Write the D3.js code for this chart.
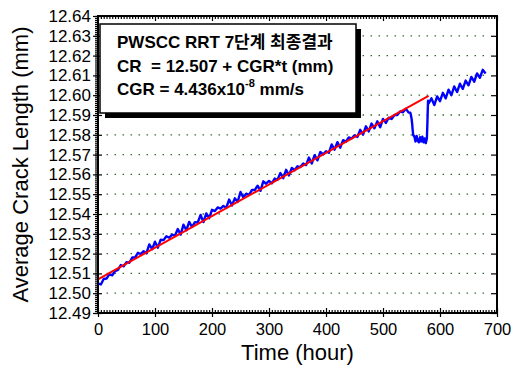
<!DOCTYPE html>
<html>
<head>
<meta charset="utf-8">
<script src="https://cdn.jsdelivr.net/npm/d3@7"></script>
<style>
  body { margin: 0; background: #fff; }
  svg text { font-family: "Liberation Sans", Arial, "Noto Sans CJK KR", sans-serif; }
</style>
</head>
<body>
<div id="chart"></div>
<script>
// measured crack length (blue trace)
const timeHours = [
  0, 5, 10, 15, 20, 25, 30, 35, 40, 45, 50, 55, 60, 65, 70, 75, 80, 85, 90, 95,
  100, 105, 110, 115, 120, 125, 130, 135, 140, 145, 150, 155, 160, 165, 170, 175, 180, 185, 190, 195,
  200, 205, 210, 215, 220, 225, 230, 235, 240, 245, 250, 255, 260, 265, 270, 275, 280, 285, 290, 295,
  300, 305, 310, 315, 320, 325, 330, 335, 340, 345, 350, 355, 360, 365, 370, 375, 380, 385, 390, 395,
  400, 405, 410, 415, 420, 425, 430, 435, 440, 445, 450, 455, 460, 465, 470, 475, 480, 485, 490, 495,
  500, 505, 510, 515, 520, 525, 530, 535, 540, 545,
  548, 550, 551, 552, 553, 555, 557, 559, 561, 563, 565, 567, 569, 571, 573, 575, 577, 578, 579,
  580, 585, 590, 595, 600, 605, 610, 615, 620, 625, 630, 635, 640, 645, 650, 655, 660, 665, 670, 675, 680
];
const crackLength = [
  12.5050, 12.5044, 12.5072, 12.5074, 12.5096, 12.5090, 12.5112, 12.5118, 12.5142, 12.5136,
  12.5156, 12.5154, 12.5180, 12.5180, 12.5204, 12.5198, 12.5212, 12.5202, 12.5246, 12.5222,
  12.5260, 12.5230, 12.5270, 12.5268, 12.5288, 12.5280, 12.5296, 12.5290, 12.5324, 12.5296,
  12.5346, 12.5318, 12.5360, 12.5334, 12.5359, 12.5357, 12.5395, 12.5359, 12.5403, 12.5379,
  12.5421, 12.5415, 12.5433, 12.5427, 12.5441, 12.5431, 12.5473, 12.5443, 12.5479, 12.5461,
  12.5511, 12.5483, 12.5503, 12.5497, 12.5521, 12.5521, 12.5543, 12.5517, 12.5565, 12.5553,
  12.5567, 12.5555, 12.5579, 12.5573, 12.5607, 12.5581, 12.5623, 12.5595, 12.5633, 12.5621,
  12.5641, 12.5637, 12.5655, 12.5647, 12.5685, 12.5655, 12.5697, 12.5671, 12.5713, 12.5701,
  12.5717, 12.5709, 12.5751, 12.5725, 12.5763, 12.5735, 12.5773, 12.5765, 12.5787, 12.5781,
  12.5797, 12.5789, 12.5825, 12.5801, 12.5843, 12.5817, 12.5857, 12.5833, 12.5868, 12.5838,
  12.5880, 12.5860, 12.5886, 12.5880, 12.5900, 12.5900, 12.5918, 12.5914, 12.5932, 12.5912,
  12.5912, 12.5884, 12.5860, 12.5826, 12.5798, 12.5792, 12.5766, 12.5794, 12.5770, 12.5762,
  12.5788, 12.5766, 12.5790, 12.5762, 12.5782, 12.5758, 12.5782, 12.5870, 12.5972,
  12.5958, 12.5984, 12.5950, 12.5994, 12.5970, 12.6012, 12.5984, 12.6028, 12.6000, 12.6044,
  12.6016, 12.6058, 12.6032, 12.6074, 12.6050, 12.6092, 12.6068, 12.6110, 12.6088, 12.6128, 12.6110
];

// linear fit (red)
const fitHours = [0, 580];
const fitLength = [12.507, 12.5996];

const xTicks = [0, 100, 200, 300, 400, 500, 600, 700];
const yTicks = [12.49, 12.50, 12.51, 12.52, 12.53, 12.54, 12.55, 12.56,
                12.57, 12.58, 12.59, 12.60, 12.61, 12.62, 12.63, 12.64];
const gridLevels = [12.50, 12.51, 12.52, 12.53, 12.54, 12.55, 12.56,
                    12.57, 12.58, 12.59, 12.60, 12.61, 12.62, 12.63];

document.addEventListener('DOMContentLoaded', () => {

  const width = 512;
  const height = 376;
  const margin = { top: 16, right: 15, bottom: 63, left: 98 };

  const svg = d3.select('#chart')
                .append('svg')
                .attr('width', width)
                .attr('height', height);

  const x = d3.scaleLinear().domain([0, 700]).range([margin.left, width - margin.right]);
  const y = d3.scaleLinear().domain([12.49, 12.64]).range([height - margin.bottom, margin.top]);

  const x0 = x(0), x1 = x(700), y0 = y(12.49), y1 = y(12.64);

  // dotted grid
  svg.append('g')
     .selectAll('line')
     .data(gridLevels)
     .enter()
     .append('line')
     .attr('x1', x(15))
     .attr('x2', x(682))
     .attr('y1', (d) => y(d))
     .attr('y2', (d) => y(d))
     .attr('stroke', '#2f6a2f')
     .attr('stroke-width', 1.3)
     .attr('stroke-dasharray', '1.5,6.5');

  // data trace
  const trace = d3.line()
                  .x((d, i) => x(timeHours[i]))
                  .y((d) => y(d));

  svg.append('path')
     .datum(crackLength)
     .attr('d', trace)
     .attr('fill', 'none')
     .attr('stroke', '#0000ff')
     .attr('stroke-width', 2.4)
     .attr('stroke-linejoin', 'round');

  const fitLine = d3.line()
                    .x((d, i) => x(fitHours[i]))
                    .y((d) => y(d));

  svg.append('path')
     .datum(fitLength)
     .attr('d', fitLine)
     .attr('fill', 'none')
     .attr('stroke', '#ff0000')
     .attr('stroke-width', 2);

  // minor ticks
  const xMinor = d3.range(0, 701, 5).filter((d) => d % 100 !== 0);
  const yMinor = d3.range(0, 151).map((i) => 12.49 + i * 0.001);

  svg.append('g')
     .attr('transform', 'translate(0,' + y0 + ')')
     .call(d3.axisTop(x).tickValues(xMinor).tickSize(3).tickFormat(''))
     .call((g) => g.select('.domain').remove());

  svg.append('g')
     .attr('transform', 'translate(0,' + y1 + ')')
     .call(d3.axisBottom(x).tickValues(xMinor).tickSize(3).tickFormat(''))
     .call((g) => g.select('.domain').remove());

  svg.append('g')
     .attr('transform', 'translate(' + x0 + ',0)')
     .call(d3.axisLeft(y).tickValues(yMinor).tickSize(3).tickFormat(''))
     .call((g) => g.select('.domain').remove());

  // major ticks, crossing the frame on left and bottom
  svg.append('g')
     .attr('transform', 'translate(0,' + y0 + ')')
     .call(d3.axisBottom(x).tickValues(xTicks).tickSize(4).tickPadding(6).tickFormat(d3.format('d')))
     .call((g) => g.select('.domain').remove())
     .call((g) => g.selectAll('text').attr('font-size', 16.5).attr('fill', '#000'));

  svg.append('g')
     .attr('transform', 'translate(0,' + y0 + ')')
     .call(d3.axisTop(x).tickValues(xTicks).tickSize(5).tickFormat(''))
     .call((g) => g.select('.domain').remove());

  svg.append('g')
     .attr('transform', 'translate(0,' + y1 + ')')
     .call(d3.axisBottom(x).tickValues(xTicks).tickSize(5).tickFormat(''))
     .call((g) => g.select('.domain').remove());

  svg.append('g')
     .attr('transform', 'translate(' + x0 + ',0)')
     .call(d3.axisLeft(y).tickValues(yTicks).tickSize(5).tickPadding(2).tickFormat(d3.format('.2f')))
     .call((g) => g.select('.domain').remove())
     .call((g) => g.selectAll('text').attr('font-size', 17).attr('fill', '#000'));

  svg.append('g')
     .attr('transform', 'translate(' + x0 + ',0)')
     .call(d3.axisRight(y).tickValues(yTicks).tickSize(4).tickFormat(''))
     .call((g) => g.select('.domain').remove());

  svg.append('g')
     .attr('transform', 'translate(' + x1 + ',0)')
     .call(d3.axisLeft(y).tickValues(yTicks).tickSize(6).tickFormat(''))
     .call((g) => g.select('.domain').remove());

  svg.selectAll('.tick line').attr('stroke', '#000').attr('stroke-width', 1.2);

  // frame
  svg.append('rect')
     .attr('x', x0)
     .attr('y', y1)
     .attr('width', x1 - x0)
     .attr('height', y0 - y1)
     .attr('fill', 'none')
     .attr('stroke', '#000')
     .attr('stroke-width', 2);

  // equation box with drop shadow
  const box = { x: 100, y: 24, w: 256, h: 89, off: 5 };

  svg.append('rect')
     .attr('x', box.x + box.off)
     .attr('y', box.y + box.off)
     .attr('width', box.w)
     .attr('height', box.h)
     .attr('fill', '#000');

  svg.append('rect')
     .attr('x', box.x)
     .attr('y', box.y)
     .attr('width', box.w)
     .attr('height', box.h)
     .attr('fill', '#fff')
     .attr('stroke', '#000')
     .attr('stroke-width', 1.5);

  const note = svg.append('g')
                  .attr('font-size', 17)
                  .attr('font-weight', 'bold')
                  .attr('fill', '#000');

  note.append('text')
      .attr('x', 117)
      .attr('y', 48)
      .text('PWSCC RRT 7단계 최종결과');

  note.append('text')
      .attr('x', 117)
      .attr('y', 72)
      .attr('xml:space', 'preserve')
      .text('CR  = 12.507 + CGR*t (mm)');

  const cgr = note.append('text')
                  .attr('x', 117)
                  .attr('y', 95);
  cgr.append('tspan').text('CGR = 4.436x10');
  cgr.append('tspan').attr('dy', -8).attr('font-size', 11).text('-8');
  cgr.append('tspan').attr('dy', 8).text(' mm/s');

  // axis titles
  svg.append('text')
     .attr('x', (x0 + x1) / 2)
     .attr('y', 360)
     .attr('text-anchor', 'middle')
     .attr('font-size', 22)
     .text('Time (hour)');

  svg.append('text')
     .attr('transform', 'translate(28,' + (y0 + y1) / 2 + ') rotate(-90)')
     .attr('text-anchor', 'middle')
     .attr('font-size', 22)
     .text('Average Crack Length (mm)');

});
</script>
</body>
</html>
